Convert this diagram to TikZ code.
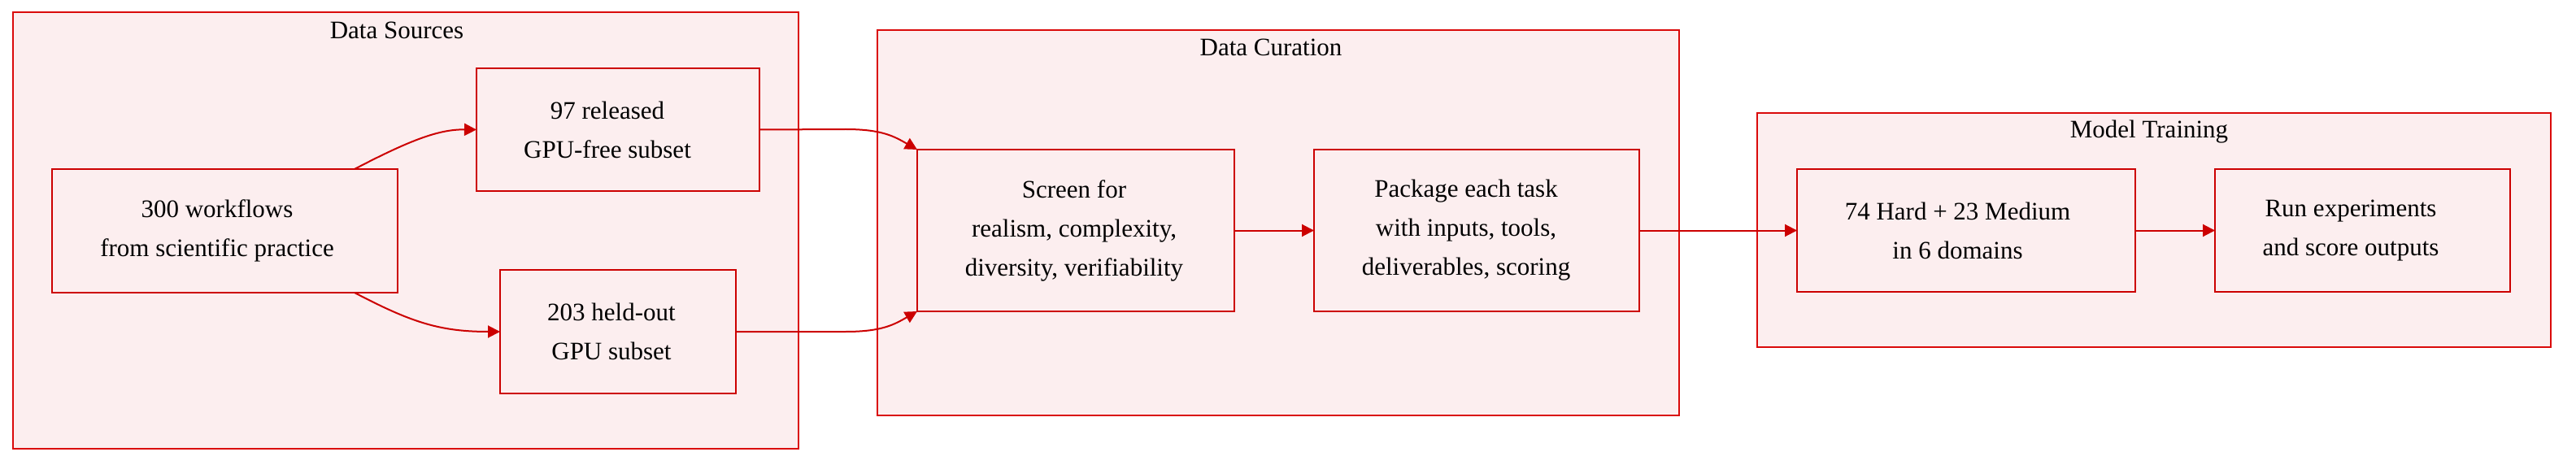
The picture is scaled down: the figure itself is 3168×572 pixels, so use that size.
\documentclass[tikz,border=0pt]{standalone}
\usepackage{fontspec}
\setmainfont{Liberation Serif}
\usetikzlibrary{arrows.meta,calc}
\definecolor{boxfill}{RGB}{252,238,239}
\definecolor{boxline}{RGB}{204,0,0}
\definecolor{clusterline}{RGB}{218,10,10}
\begin{document}
\begin{tikzpicture}[x=0.5pt,y=-0.5pt,
 cluster/.style={draw=clusterline,fill=boxfill,line width=0.8pt},
 box/.style={draw=boxline,fill=boxfill,line width=1pt,inner sep=0pt,outer sep=0pt},
 txt/.style={align=center,inner sep=0pt,font=\fontsize{15.5}{24}\selectfont},
 ttl/.style={font=\fontsize{15.5}{24}\selectfont,inner sep=0pt},
 conn/.style={draw=boxline,line width=1pt,-{Triangle[length=7.5pt,width=7.5pt]}}]
\useasboundingbox (0,0) rectangle (3168,572);
% clusters
\draw[cluster] (16,15) rectangle (982,552);
\draw[cluster] (1079,37) rectangle (2065,511);
\draw[cluster] (2161,139) rectangle (3137,427);
\node[ttl] (tds) at (488,37) {Data Sources};
\node[ttl] (tdc) at (1563,58) {Data Curation};
\node[ttl] (tmt) at (2643,162) {Model Training};
% nodes
\node[box,minimum width=212.5pt,minimum height=76pt,
  label={[txt,xshift=-4.75pt]center:{300 workflows\\from scientific practice}}] (n300) at (276.5,284) {};
\node[box,minimum width=174pt,minimum height=75.5pt,
  label={[txt,xshift=-6.5pt]center:{97 released\\GPU-free subset}}] (n97) at (760,159.5) {};
\node[box,minimum width=145pt,minimum height=76pt,
  label={[txt,xshift=-4pt]center:{203 held-out\\GPU subset}}] (n203) at (760,408) {};
\node[box,minimum width=195pt,minimum height=99.5pt,
  label={[txt,xshift=-1pt]center:{Screen for\\realism, complexity,\\diversity, verifiability}}] (screen) at (1323,283.5) {};
\node[box,minimum width=200pt,minimum height=99.5pt,
  label={[txt,xshift=-6.5pt]center:{Package each task\\with inputs, tools,\\deliverables, scoring}}] (pack) at (1816,283.5) {};
\node[box,minimum width=208pt,minimum height=75.5pt,
  label={[txt,xshift=-5.25pt]center:{74 Hard + 23 Medium\\in 6 domains}}] (n74) at (2418,283.5) {};
\node[box,minimum width=181.5pt,minimum height=75.5pt,
  label={[txt,xshift=-7.25pt]center:{Run experiments\\and score outputs}}] (run) at (2905.5,283.5) {};
% connectors
\draw[conn] ($(n300.north west)+(372,0)$) .. controls (505,172) and (540,159) .. (n97.west);
\draw[conn] ($(n300.south west)+(372,0)$) .. controls (505,396) and (540,408) .. (n203.west);
\draw[conn] (n97.east) -- (1040,159) .. controls (1085,159) and (1100,168) .. (screen.north west);
\draw[conn] (n203.east) -- (1040,408) .. controls (1085,408) and (1100,399) .. (screen.south west);
\draw[conn] (screen) -- (pack);
\draw[conn] (pack) -- (n74);
\draw[conn] (n74) -- (run);
\end{tikzpicture}
\end{document}
